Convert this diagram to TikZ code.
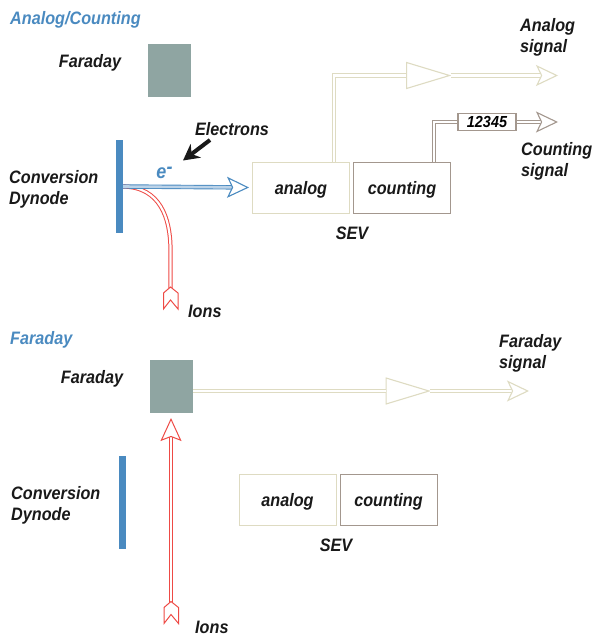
\documentclass[tikz,border=0pt]{standalone}
\usepackage{fontspec}
\setmainfont{Liberation Sans}[FakeStretch=0.9]
\usetikzlibrary{positioning}
\usetikzlibrary{arrows.meta}
\usetikzlibrary{shapes.geometric}
\definecolor{titleblue}{HTML}{4A8AC0}
\definecolor{dynodeblue}{HTML}{4A8AC0}
\definecolor{paleblue}{HTML}{BCD3E8}
\definecolor{faradaygray}{HTML}{8FA5A2}
\definecolor{analogbeige}{HTML}{DEDBC2}
\definecolor{countingbrown}{HTML}{A3978E}
\definecolor{ionred}{HTML}{EE4A45}

\begin{document}
\begin{tikzpicture}[x=1pt, y=-1pt,
                          labeltext/.style={font=\fontsize{18}{21}\selectfont\bfseries\itshape, text=black!90, inner sep=0pt, align=left, yshift=-1.5pt},
                          titletext/.style={labeltext, text=titleblue, anchor=west},
                          faradaybox/.style={rectangle, fill=faradaygray, inner sep=0pt, minimum width=43pt, minimum height=53pt},
                          dynodebar/.style={rectangle, fill=dynodeblue, inner sep=0pt, minimum width=7pt, minimum height=93pt},
                          analogbox/.style={rectangle, draw=analogbeige, line width=1pt, fill=white, minimum width=97pt, minimum height=51pt, inner sep=0pt, font=\fontsize{18}{21}\selectfont\bfseries\itshape, text=black!90, text height=16pt, text depth=3pt},
                          countingbox/.style={analogbox, draw=countingbrown},
                          ampnode/.style={isosceles triangle, isosceles triangle stretches, draw=analogbeige, line width=1.1pt, fill=white, inner sep=0pt, minimum width=26pt, minimum height=43pt, anchor=west},
                          counternode/.style={rectangle, draw=countingbrown, line width=1.1pt, fill=white, inner sep=0pt, minimum width=58pt, minimum height=17pt, font=\fontsize{16}{18}\selectfont\bfseries\itshape},
                          analogline/.style={draw=analogbeige, double=white, line width=1.2pt, double distance=2.4pt},
                          countingline/.style={draw=countingbrown, double=white, line width=1.2pt, double distance=2.4pt},
                          electronline/.style={draw=dynodeblue, double=paleblue, line width=.9pt, double distance=2.6pt},
                          ionline/.style={draw=ionred, double=white, line width=1pt, double distance=2.2pt},
                          openhead/.style={-{Stealth[length=22pt, width=21pt, inset=5pt, fill=white, line width=1.1pt]}},
                          pics/fletching/.style={code={\draw[draw=ionred, fill=white, line width=1pt] (0,0) -- (7.5,6) -- (7.5,22) -- (0,13) -- (-7,22) -- (-7,6) -- cycle;}},
                      ]
                      \useasboundingbox (0,0) rectangle (592,637);

                      %Upper part, Nodes
                      \node[titletext]      (title_a)    at (10,18)      {Analog/Counting};
                      \node[faradaybox]     (faraday_a)  at (169.5,70.5) {};
                      \node[labeltext]      (faraday_la) at (90,61)      {Faraday};
                      \node[dynodebar]      (dynode_a)   at (119.5,186.5) {};
                      \node[labeltext, anchor=west] (dynode_la) at (9,188) {Conversion\\[-.5pt]Dynode};
                      \node[labeltext]      (electrons)  at (232,127.5)  {Electrons};
                      \node[labeltext, text=titleblue] (eminus) at (164.5,171) {\fontsize{20}{22}\selectfont e\raisebox{5pt}{-}};
                      \node[analogbox]      (analog_a)   at (301,187.5)  {analog};
                      \node[countingbox]    (counting_a) [right=3pt of analog_a] {counting};
                      \node[labeltext]      (sev_a)      at (352,232)    {SEV};
                      \node[ampnode]        (amp_a)      at (406,75.5)   {};
                      \node[counternode]    (counter)    at (487,122)    {12345};
                      \node[labeltext, anchor=west] (analog_s)   at (520,36)    {Analog\\[-.5pt]signal};
                      \node[labeltext, anchor=west] (counting_s) at (521,160)   {Counting\\[-.5pt]signal};
                      \node[labeltext, anchor=west] (ions_a)     at (188,310)   {Ions};
                      \coordinate (analog_end)   at (558,75.5);
                      \coordinate (counting_end) at (558,122);
                      \coordinate (ions_start)   at (170.5,288);
                      \coordinate (electron_arrow) at (183,160.5);
                      \coordinate (electron_tail)  at (210,140);

                      %Upper part, Lines
                      \draw[ionline] (ions_start) -- (170.5,250) .. controls (170.5,218) and (160,187) .. (dynode_a.east);
                      \pic at (170.5,287) {fletching};
                      \draw[electronline, openhead, shorten >=3pt] (dynode_a.east) -- (analog_a.west);
                      \draw[-{Stealth[length=16pt, width=17pt]}, line width=4pt, black!90] (electron_tail) -- (electron_arrow);
                      \draw[analogline] ([xshift=33pt]analog_a.north) |- (amp_a.west);
                      \draw[analogline, openhead] (amp_a.apex) -- (analog_end);
                      \draw[countingline] ([xshift=32pt]counting_a.north) |- (counter.west);
                      \draw[countingline, openhead] (counter.east) -- (counting_end);

                      %Lower part, Nodes
                      \node[titletext]      (title_b)    at (10,338)     {Faraday};
                      \node[faradaybox]     (faraday_b)  at (171.5,386.5) {};
                      \node[labeltext]      (faraday_lb) at (92,377)     {Faraday};
                      \node[dynodebar]      (dynode_b)   at (122.5,502.5) {};
                      \node[labeltext, anchor=west] (dynode_lb) at (11,504) {Conversion\\[-.5pt]Dynode};
                      \node[analogbox]      (analog_b)   at (287.5,499.5) {analog};
                      \node[countingbox]    (counting_b) [right=3pt of analog_b] {counting};
                      \node[labeltext]      (sev_b)      at (336,544)    {SEV};
                      \node[ampnode]        (amp_b)      at (385.5,391)  {};
                      \node[labeltext, anchor=west] (faraday_s) at (499,352) {Faraday\\[-.5pt]signal};
                      \node[labeltext, anchor=west] (ions_b)    at (195,626) {Ions};
                      \coordinate (faraday_end) at (529,391);
                      \coordinate (ions_bottom) at (171,604);
                      \coordinate (ions_top)    at (171,418);

                      %Lower part, Lines
                      \draw[analogline] (faraday_b.east |- amp_b.west) -- (amp_b.west);
                      \draw[analogline, openhead] (amp_b.apex) -- (faraday_end);
                      \draw[ionline, -{Stealth[length=23pt, width=21pt, inset=4pt, fill=white, line width=1pt]}] (ions_bottom) -- (ions_top);
                      \pic at (171,601.5) {fletching};
                  \end{tikzpicture}
\end{document}
